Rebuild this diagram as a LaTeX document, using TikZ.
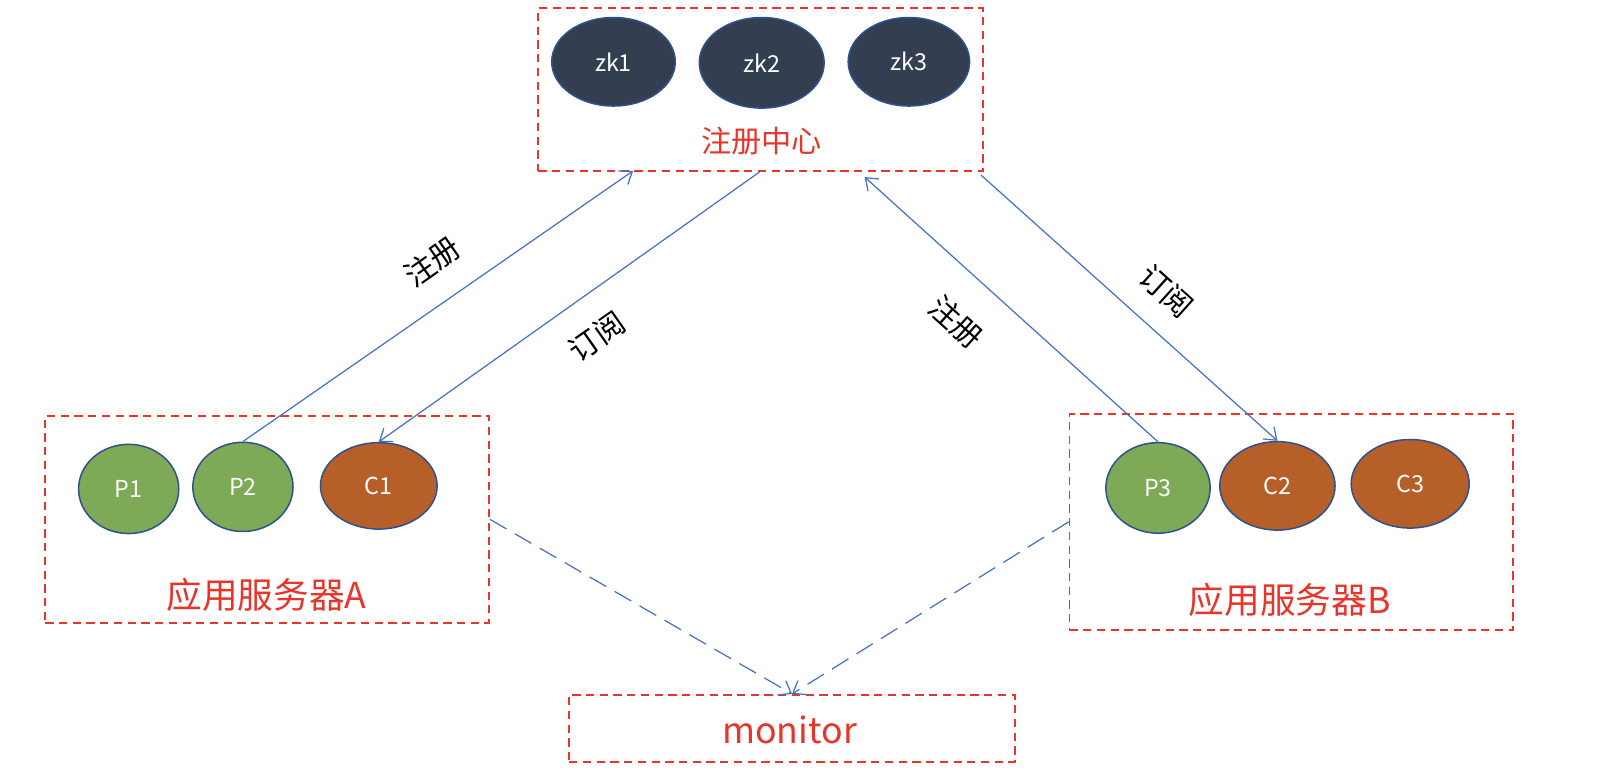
\documentclass[tikz,border=0pt]{standalone}
\usepackage{fontspec}
\setmainfont{Noto Sans CJK SC}
\usetikzlibrary{shapes.geometric,arrows.meta}

\definecolor{zkfill}{HTML}{333F50}
\definecolor{nodeline}{HTML}{2F528F}
\definecolor{provgreen}{HTML}{7EA957}
\definecolor{consorange}{HTML}{B65F28}
\definecolor{boxred}{HTML}{E8352A}
\definecolor{linkblue}{HTML}{4472C4}

\begin{document}
\begin{tikzpicture}[x=0.75pt, y=-0.75pt,
  srv/.style={ellipse, draw=nodeline, line width=1.1pt, inner sep=0pt, text=white,
    font=\fontsize{17}{20}\selectfont},
  zk/.style={srv, fill=zkfill, minimum width=90pt, minimum height=64.5pt},
  prov/.style={srv, fill=provgreen},
  cons/.style={srv, fill=consorange},
  group/.style={draw=boxred, dashed, dash pattern=on 6pt off 4pt, line width=1.3pt,
    inner sep=0pt},
  grouplabel/.style={text=boxred, font=\fontsize{26}{30}\selectfont},
  link/.style={draw=linkblue, line width=0.9pt, -{Straight Barb[length=8pt,width=12pt]}},
  watch/.style={link, dashed, dash pattern=on 14pt off 7pt},
  linklabel/.style={font=\fontsize{22}{26}\selectfont}]
  \useasboundingbox (0,0) rectangle (1568,754);

  % registry
  \node[group, minimum width=324pt, minimum height=118.5pt] (reg) at (739,87) {};
  \node[zk] (zk1) at (596,60) {zk1};
  \node[zk, minimum width=91pt, minimum height=66pt] (zk2) at (740,61) {zk2};
  \node[zk, minimum width=88.5pt] (zk3) at (883,60) {zk3};
  \node[text=boxred, font=\fontsize{22}{26}\selectfont] (reglabel) at (740,137) {注册中心};

  % server A
  \node[group, minimum width=323.25pt, minimum height=150.75pt] (srvA) at (259.5,504.5) {};
  \node[prov, minimum width=73pt, minimum height=65pt] (P1) at (125,475) {P1};
  \node[prov, minimum width=73pt, minimum height=65pt] (P2) at (236,473) {P2};
  \node[cons, minimum width=85pt, minimum height=63pt] (C1) at (368,472) {C1};
  \node[grouplabel] (labelA) at (259,578) {应用服务器A};

  % server B
  \node[group, minimum width=323.25pt, minimum height=157.5pt] (srvB) at (1254.5,507) {};
  \node[prov, minimum width=76pt, minimum height=66pt] (P3) at (1125,474) {P3};
  \node[cons, minimum width=84pt, minimum height=64.5pt] (C2) at (1241,472) {C2};
  \node[cons, minimum width=86pt, minimum height=64.5pt] (C3) at (1370,470) {C3};
  \node[grouplabel] (labelB) at (1253,583) {应用服务器B};

  % monitor
  \node[group, minimum width=324.75pt, minimum height=48.75pt] (mon) at (769.5,707.5) {};
  \node[grouplabel] (monlabel) at (767,709) {monitor};

  % register / subscribe
  \coordinate (regin1) at (615,166);
  \coordinate (regout1) at (738,167);
  \coordinate (regin2) at (840,172);
  \coordinate (regout2) at (953,170);
  \draw[link] (P2.north) -- (regin1);
  \draw[link] (regout1) -- (C1.north);
  \draw[link] (P3.north) -- (regin2);
  \draw[link] (regout2) -- (C2.north);

  \node[linklabel, rotate=35] (reg1) at (420,254) {注册};
  \node[linklabel, rotate=35] (sub1) at (580,327) {订阅};
  \node[linklabel, rotate=-42] (reg2) at (929,313) {注册};
  \node[linklabel, rotate=-42] (sub2) at (1133,283) {订阅};

  \draw[watch] (srvA.east) -- (mon.north);
  \draw[watch] (srvB.west) -- (mon.north);
\end{tikzpicture}
\end{document}
